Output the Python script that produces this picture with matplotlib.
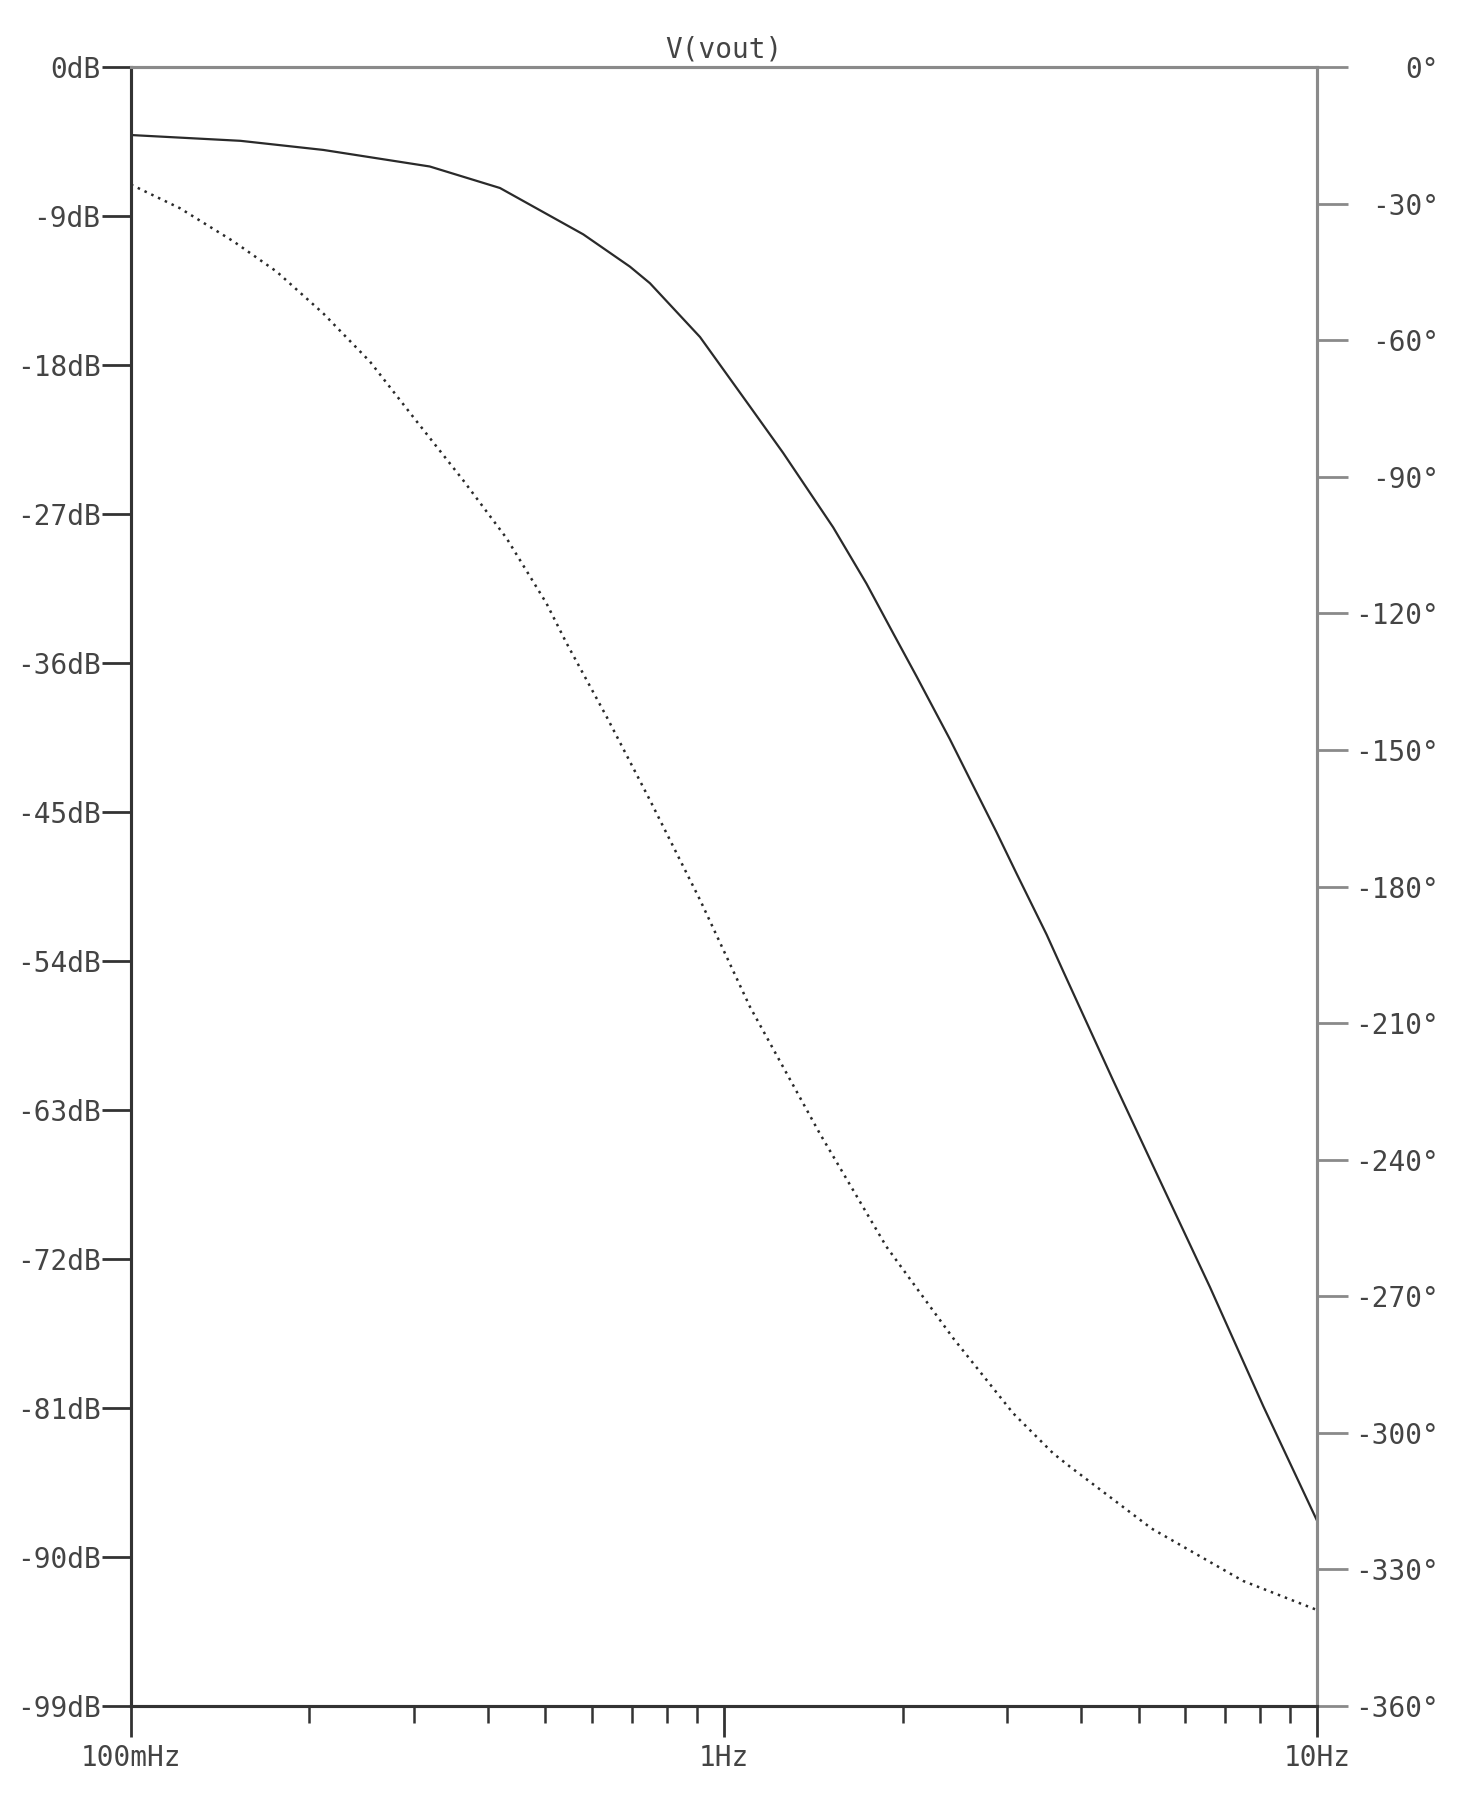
import matplotlib
matplotlib.use("Agg")
import matplotlib.pyplot as plt
from matplotlib.ticker import FixedLocator, NullFormatter

# magnitude trace V(vout) in dB (solid, left axis)
mag_freq = [0.100, 0.153, 0.211, 0.319, 0.419, 0.579, 0.694, 0.750, 0.911,
            1.106, 1.258, 1.528, 1.739, 1.929, 2.112, 2.404, 2.597, 2.88,
            3.113, 3.50, 3.731, 4.53, 5.36, 6.60, 8.12, 10.0]
mag_db = [-4.1, -4.45, -5.0, -6.0, -7.3, -10.1, -12.05, -13.05, -16.3,
          -20.5, -23.3, -27.8, -31.2, -34.2, -36.8, -40.6, -43.0, -46.2,
          -48.7, -52.4, -54.6, -61.2, -66.8, -73.7, -80.9, -87.8]

# phase trace in degrees (dotted, right axis)
ph_freq = [0.100, 0.121, 0.149, 0.176, 0.211, 0.253, 0.299, 0.363, 0.430,
           0.502, 0.5425, 0.634, 0.750, 0.911, 1.106, 1.45, 1.879, 2.435,
           3.074, 3.59, 3.83, 5.26, 7.50, 10.0]
ph_deg = [-25.8, -31.0, -38.3, -44.9, -54.1, -64.7, -76.8, -90.7, -103.5,
          -117.8, -126.5, -142.7, -161.0, -182.9, -206.4, -234.2, -259.1,
          -279.2, -295.7, -304.5, -307.4, -321.0, -332.5, -338.9]

db_ticks = list(range(0, -100, -9))
deg_ticks = list(range(0, -361, -30))
freq_ticks = [0.1, 1, 10]
freq_labels = ["100mHz", "1Hz", "10Hz"]

dark = "#333333"
grey = "#8a8a8a"
txt = "#444444"
fs = 20

plt.rcParams["font.family"] = ["DejaVu Sans Mono"]

fig = plt.figure(figsize=(14.75, 18.2), dpi=100)
ax = fig.add_axes([0.0888, 0.0626, 0.8041, 0.9005])
ax2 = ax.twinx()

ax.semilogx(mag_freq, mag_db, color="#2a2a2a", lw=1.6)
ax2.semilogx(ph_freq, ph_deg, color="#2a2a2a", lw=1.8, linestyle=(0, (1, 2)))

ax.set_xlim(0.1, 10)
ax.set_ylim(-99, 0)
ax2.set_ylim(-360, 0)

ax.xaxis.set_major_locator(FixedLocator(freq_ticks))
ax.set_xticklabels(freq_labels)
minor = [m * d for d in (0.1, 1) for m in range(2, 10)]
ax.xaxis.set_minor_locator(FixedLocator(minor))
ax.xaxis.set_minor_formatter(NullFormatter())

ax.set_yticks(db_ticks)
ax.set_yticklabels([f"{v}dB" for v in db_ticks])
ax2.set_yticks(deg_ticks)
ax2.set_yticklabels([f"{v}\u00b0" for v in deg_ticks])

ax.tick_params(axis="y", direction="out", length=21, width=2, color=dark,
               labelsize=fs, labelcolor=txt, pad=1)
ax.tick_params(axis="x", which="major", direction="out", length=22, width=2,
               color=dark, labelsize=fs, labelcolor=txt, pad=5)
ax.tick_params(axis="x", which="minor", direction="out", length=12, width=1.8,
               color=dark)
ax2.tick_params(axis="y", direction="out", length=22, width=2, color=grey,
                labelsize=fs, labelcolor=txt, pad=66)
for lab in ax2.get_yticklabels():
    lab.set_horizontalalignment("right")

for a in (ax, ax2):
    a.spines["left"].set_color(dark)
    a.spines["bottom"].set_color(dark)
    a.spines["top"].set_color(grey)
    a.spines["right"].set_color(grey)
    for s in a.spines.values():
        s.set_linewidth(2.2)

ax.set_title("V(vout)", fontsize=fs, color=txt, pad=7)

fig.savefig("out.png", dpi=100, facecolor="white")
